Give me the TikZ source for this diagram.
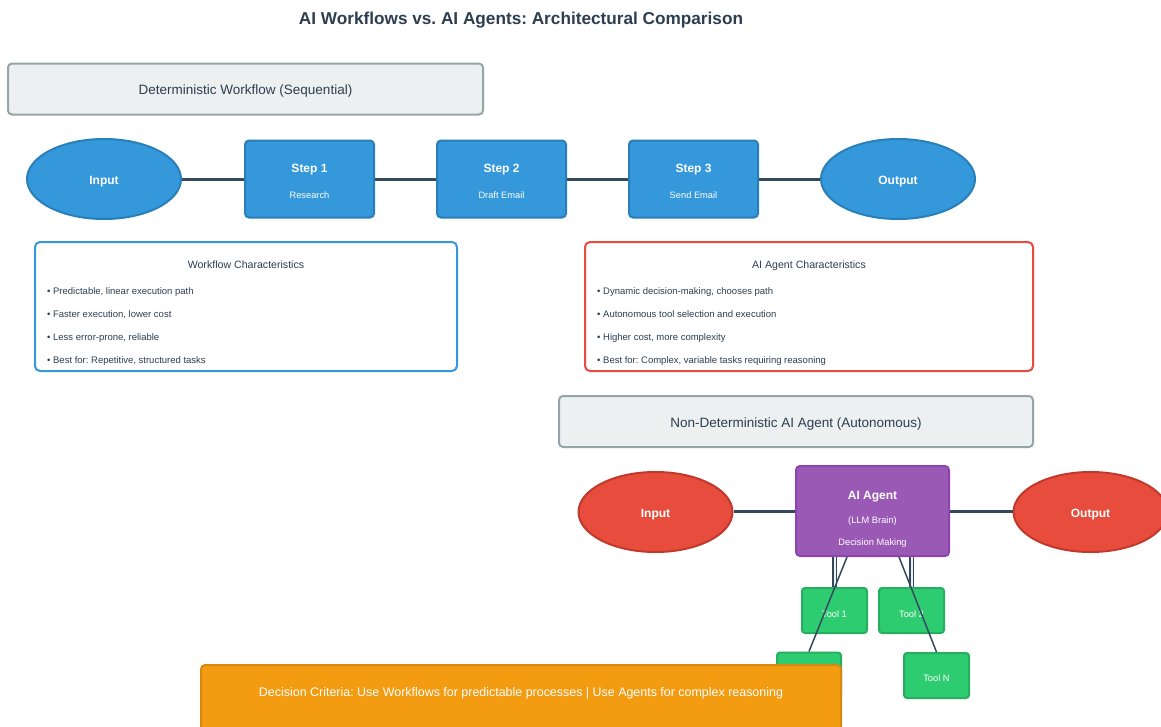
\documentclass[tikz,border=0pt]{standalone}
\usepackage{fontspec}
\setmainfont{Liberation Sans}
\usetikzlibrary{shapes.geometric}
\frenchspacing
\definecolor{dark}{HTML}{34495E}
\definecolor{txt}{HTML}{2C3E50}
\definecolor{secfill}{HTML}{ECF0F1}
\definecolor{secline}{HTML}{95A5A6}
\definecolor{blue}{HTML}{3498DB}
\definecolor{blueline}{HTML}{2980B9}
\definecolor{red}{HTML}{E74C3C}
\definecolor{redline}{HTML}{C0392B}
\definecolor{purple}{HTML}{9B59B6}
\definecolor{purpleline}{HTML}{8E44AD}
\definecolor{green}{HTML}{2ECC71}
\definecolor{greenline}{HTML}{27AE60}
\definecolor{orange}{HTML}{F39C12}
\definecolor{orangeline}{HTML}{D68910}
\tikzset{
  tc/.style={inner sep=0pt, text height=0.72em, text depth=0pt},
  sect/.style={draw=secline, fill=secfill, line width=2pt, rounded corners=4pt, minimum height=51pt, inner sep=0pt},
  secttext/.style={tc, text=txt, font=\fontsize{13.5}{15}\selectfont},
  ell/.style={ellipse, line width=2pt, minimum width=154pt, minimum height=80pt, inner sep=0pt},
  wfell/.style={ell, draw=blueline, fill=blue},
  agell/.style={ell, draw=redline, fill=red},
  elltext/.style={tc, text=white, font=\fontsize{12}{14}\selectfont\bfseries},
  stepbox/.style={draw=blueline, fill=blue, line width=2pt, rounded corners=4pt, minimum width=129pt, minimum height=77pt, inner sep=0pt},
  btitle/.style={tc, text=white, font=\fontsize{12}{14}\selectfont\bfseries},
  bsub/.style={tc, text=white, font=\fontsize{9.3}{11}\selectfont},
  charbox/.style={fill=white, line width=2pt, rounded corners=5pt, minimum height=129pt, inner sep=0pt},
  ctitle/.style={tc, text=txt, font=\fontsize{10.6}{12}\selectfont},
  bullet/.style={tc, text=txt, font=\fontsize{9.5}{11}\selectfont, anchor=west},
  conn/.style={draw=dark, line width=3pt},
  thin/.style={draw=dark, line width=1.5pt},
  dbl/.style={draw=dark, line width=1.1pt, double=secfill, double distance=2pt},
  toolbox/.style={draw=greenline, fill=green, line width=2pt, rounded corners=3pt, minimum width=65pt, minimum height=45pt, inner sep=0pt},
  tooltext/.style={tc, text=white, font=\fontsize{9.3}{11}\selectfont},
}
\begin{document}
\begin{tikzpicture}[x=1pt,y=-1pt]
\clip (0,0) rectangle (1161,726);
\fill[white] (0,0) rectangle (1161,726);
% title
\node[tc, text=txt, font=\fontsize{17.2}{20}\selectfont\bfseries] (title) at (521,20.5) {AI Workflows vs. AI Agents: Architectural Comparison};
% workflow section
\node[sect, minimum width=475pt] (sec1) at (245.5,89) {};
\node[secttext] (sec1t) at (245.5,91) {Deterministic Workflow (Sequential)};
\node[wfell] (win) at (104,179) {};
\node[stepbox] (s1) at (309.5,179) {};
\node[stepbox] (s2) at (501.5,179) {};
\node[stepbox] (s3) at (693.5,179) {};
\node[wfell] (wout) at (898,179) {};
\draw[conn] (win) -- (s1);
\draw[conn] (s1) -- (s2);
\draw[conn] (s2) -- (s3);
\draw[conn] (s3) -- (wout);
\node[elltext] (wint) at (104,181) {Input};
\node[elltext] (woutt) at (898,181) {Output};
\node[btitle] (s1t) at (309.5,168.5) {Step 1};
\node[bsub] (s1s) at (309.5,194.5) {Research};
\node[btitle] (s2t) at (501.5,168.5) {Step 2};
\node[bsub] (s2s) at (501.5,194.5) {Draft Email};
\node[btitle] (s3t) at (693.5,168.5) {Step 3};
\node[bsub] (s3s) at (693.5,194.5) {Send Email};
% characteristics
\node[charbox, draw=blue, minimum width=422pt] (wc) at (246,306.5) {};
\node[ctitle] (wct) at (246,264.5) {Workflow Characteristics};
\node[bullet] (wb1) at (47,290.5) {• Predictable, linear execution path};
\node[bullet] (wb2) at (47,313.5) {• Faster execution, lower cost};
\node[bullet] (wb3) at (47,336.5) {• Less error-prone, reliable};
\node[bullet] (wb4) at (47,359.5) {• Best for: Repetitive, structured tasks};
\node[charbox, draw=red, minimum width=448pt] (ac) at (809,306.5) {};
\node[ctitle] (act) at (809,264.5) {AI Agent Characteristics};
\node[bullet] (ab1) at (597,290.5) {• Dynamic decision-making, chooses path};
\node[bullet] (ab2) at (597,313.5) {• Autonomous tool selection and execution};
\node[bullet] (ab3) at (597,336.5) {• Higher cost, more complexity};
\node[bullet] (ab4) at (597,359.5) {• Best for: Complex, variable tasks requiring reasoning};
% agent section
\node[sect, minimum width=474pt] (sec2) at (796,421.5) {};
\node[secttext] (sec2t) at (796,423.5) {Non-Deterministic AI Agent (Autonomous)};
\node[agell] (ain) at (655.5,512) {};
\node[draw=purpleline, fill=purple, line width=2pt, rounded corners=4pt, minimum width=153pt, minimum height=90pt, inner sep=0pt] (ag) at (872.5,511) {};
\node[agell] (aout) at (1090.5,512) {};
\draw[conn] (ain.east |- ag.west) -- (ag.west);
\draw[conn] (ag.east) -- (aout.west |- ag.east);
\node[elltext] (aint) at (655.5,514) {Input};
\node[elltext] (aoutt) at (1090.5,514) {Output};
\node[btitle] (agt) at (872.5,495.5) {AI Agent};
\node[bsub] (ags1) at (872.5,519.5) {(LLM Brain)};
\node[bsub] (ags2) at (872.5,541.5) {Decision Making};
% tools
\node[toolbox] (t1) at (834.5,610.5) {};
\node[toolbox] (t2) at (911.5,610.5) {};
\node[toolbox, minimum width=64pt] (t3) at (809,675) {};
\node[toolbox] (tn) at (936.5,675.5) {};
\node[tooltext] (t1t) at (834.5,613.5) {Tool 1};
\node[tooltext] (t2t) at (911.5,613.5) {Tool 2};
\node[tooltext] (tnt) at (936.5,678) {Tool N};
\draw[dbl] (ag.south -| t1.north) -- (t1.north);
\draw[dbl] (ag.south -| t2.north) -- (t2.north);
\draw[thin] ([xshift=-25.5pt]ag.south) -- (t3.north);
\draw[thin] ([xshift=26.5pt]ag.south) -- (tn.north);
% decision banner
\node[draw=orangeline, fill=orange, line width=2pt, rounded corners=4pt, minimum width=640pt, minimum height=80pt, inner sep=0pt] (dec) at (521,705) {};
\node[tc, text=white, font=\fontsize{12.45}{14}\selectfont] (dect) at (521,692.5) {Decision Criteria: Use Workflows for predictable processes | Use Agents for complex reasoning};
\end{tikzpicture}
\end{document}
